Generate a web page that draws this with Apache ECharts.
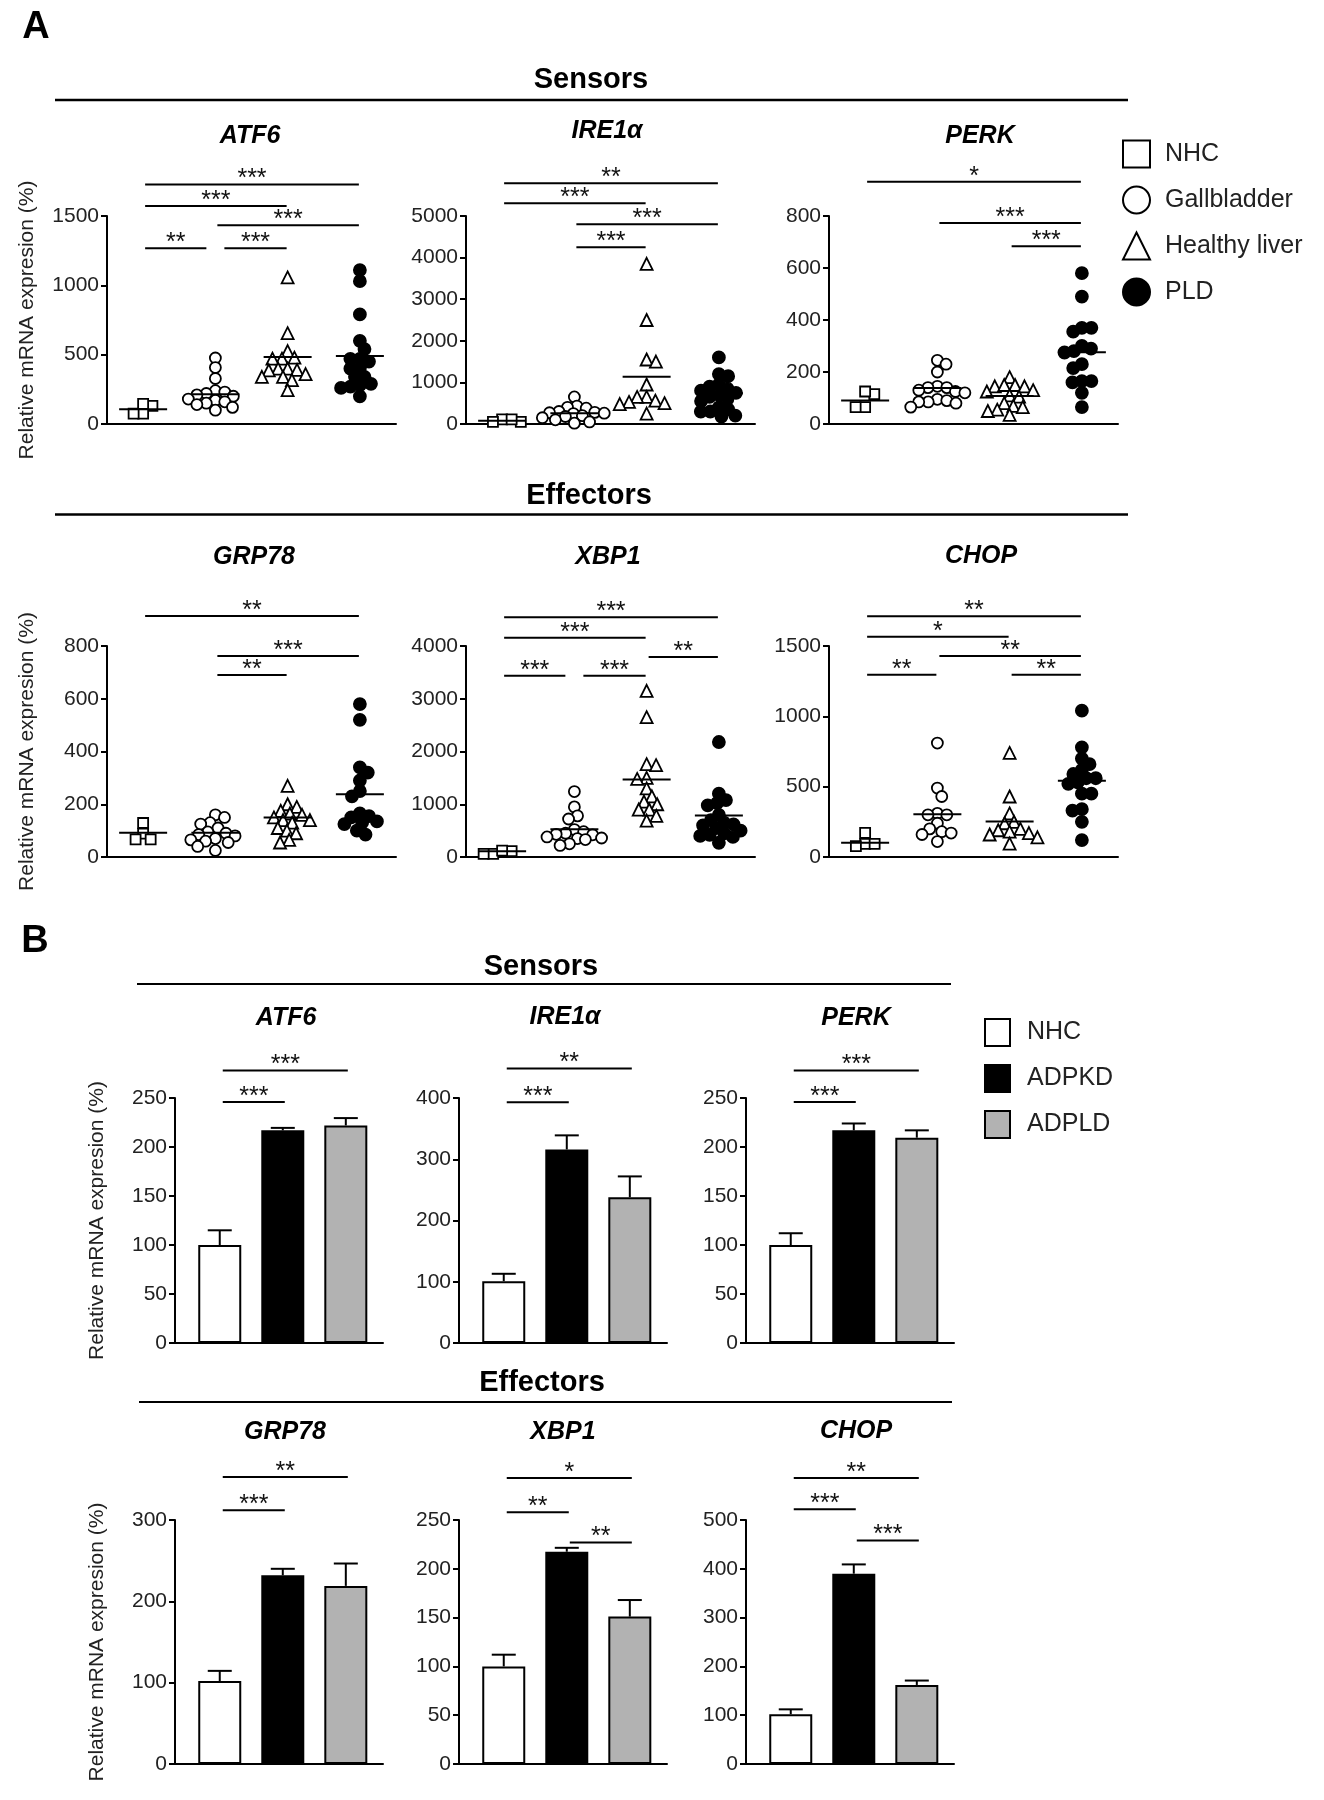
<!DOCTYPE html>
<html><head><meta charset="utf-8">
<script src="https://cdn.jsdelivr.net/npm/echarts@6.0.0/dist/echarts.min.js"></script>
<style>html,body{margin:0;padding:0;background:#fff}#c{width:1324px;height:1800px}</style>
</head><body><div id="c"></div>
<script>
// ---------------- DATA ----------------
const groupsA = ['NHC', 'Gallbladder', 'Healthy liver', 'PLD'];
const groupsB = ['NHC', 'ADPKD', 'ADPLD'];
const yName = 'Relative mRNA expresion (%)';

// Panel A: individual values per group [NHC, Gallbladder, Healthy liver, PLD]
const atf6A = [[130,75,75,145],
  [476,407,328,240,230,220,210,200,180,170,160,150,140,120,100],
  [1057,655,526,478,471,471,400,400,390,387,360,340,340,316,244],
  [1110,1030,790,600,540,470,470,450,400,400,340,340,290,280,270,260,200]];
const atf6AMean = [106,215,483,490];
const atf6ABr = [[0,3,1727,'***'],[0,2,1572,'***'],[1,3,1433,'***'],[0,1,1268,'**'],[1,2,1268,'***']];

const ire1aA = [[110,50,50,110],
  [650,430,400,380,300,280,270,260,250,200,180,150,100,50,20],
  [3850,2500,1550,1500,950,650,650,560,530,500,480,250],
  [1600,1200,1150,950,900,850,800,750,700,650,600,550,400,350,300,300,200,180]];
const ire1aAMean = [80,261,1138,737];
const ire1aABr = [[0,3,5785,'**'],[0,2,5304,'***'],[1,3,4800,'***'],[1,2,4247,'***']];

const perkA = [[115,125,65,65],
  [245,230,200,145,140,140,130,125,120,95,90,85,85,80,65],
  [180,150,145,145,150,130,125,110,105,80,70,65,55,50,35],
  [580,490,370,370,355,300,290,280,275,230,215,165,165,160,120,65]];
const perkAMean = [90,138,108,276];
const perkABr = [[0,3,932,'*'],[1,3,773,'***'],[2,3,684,'***']];

const grp78A = [[89,129,67,67],
  [160,150,130,125,110,95,90,85,80,70,65,60,55,40,25],
  [270,200,190,175,165,160,150,140,140,130,110,100,90,65,55],
  [580,520,340,320,290,250,230,165,155,150,135,130,125,100,85]];
const grp78AMean = [92,92,150,238];
const grp78ABr = [[0,3,914,'**'],[1,3,762,'***'],[1,2,690,'**']];

const xbp1A = [[110,60,60,120],
  [1240,950,780,720,520,480,450,430,420,380,360,350,330,250,220],
  [3150,2650,1760,1740,1500,1480,1300,1150,1050,1000,900,900,780,690],
  [2180,1200,1080,1020,980,800,700,650,620,600,550,500,450,420,400,380,270]];
const xbp1AMean = [107,527,1470,785];
const xbp1ABr = [[0,3,4546,'***'],[0,2,4157,'***'],[2,3,3793,'**'],[0,1,3435,'***'],[1,2,3435,'***']];

const chopA = [[94,78,94,172],
  [810,490,430,310,300,300,240,200,180,170,160,110],
  [740,430,310,250,240,200,190,180,170,160,140,95],
  [1040,780,700,660,620,590,560,560,530,520,450,450,340,330,250,120]];
const chopAMean = [101,304,252,542];
const chopABr = [[0,3,1712,'**'],[0,2,1566,'*'],[1,3,1429,'**'],[0,1,1295,'**'],[2,3,1295,'**']];

// Panel B: means and SEM [NHC, ADPKD, ADPLD]
const atf6B = [100,217,222];   const atf6BErr = [15,2.5,7.5];
const atf6BBr = [[0,1,246,'***'],[0,2,278,'***']];
const ire1aB = [101,316,238];  const ire1aBErr = [12,23,34];
const ire1aBBr = [[0,1,393,'***'],[0,2,448,'**']];
const perkB = [100,217,209.5]; const perkBErr = [12,7,7.5];
const perkBBr = [[0,1,246,'***'],[0,2,278,'***']];
const grp78B = [102,232,219];  const grp78BErr = [12.5,8,27.5];
const grp78BBr = [[0,1,312,'***'],[0,2,353,'**']];
const xbp1B = [100,217.5,151]; const xbp1BErr = [12,4,17];
const xbp1BBr = [[0,1,258,'**'],[0,2,293,'*'],[1,2,227,'**']];
const chopB = [102,390,162];   const chopBErr = [10,19,9];
const chopBBr = [[0,1,522,'***'],[0,2,586,'**'],[1,2,458,'***']];

// ---------------- LAYOUT / STYLE ----------------
const FF = '"Liberation Sans", Arial, Helvetica, sans-serif';
const panelsA = [
  {title:'ATF6',  tx:250, ty:136, data:atf6A,  mean:atf6AMean,  br:atf6ABr,  max:1500, step:500,  left:107, top:216, h:208, named:true},
  {title:'IRE1α', tx:607, ty:131, data:ire1aA, mean:ire1aAMean, br:ire1aABr, max:5000, step:1000, left:466, top:216, h:208},
  {title:'PERK',  tx:980, ty:136, data:perkA,  mean:perkAMean,  br:perkABr,  max:800,  step:200,  left:829, top:216, h:208},
  {title:'GRP78', tx:254, ty:557, data:grp78A, mean:grp78AMean, br:grp78ABr, max:800,  step:200,  left:107, top:646, h:211, named:true},
  {title:'XBP1',  tx:608, ty:557, data:xbp1A,  mean:xbp1AMean,  br:xbp1ABr,  max:4000, step:1000, left:466, top:646, h:211},
  {title:'CHOP',  tx:981, ty:556, data:chopA,  mean:chopAMean,  br:chopABr,  max:1500, step:500,  left:829, top:646, h:211}
];
const panelsB = [
  {title:'ATF6',  tx:286, ty:1018, data:atf6B,  err:atf6BErr,  br:atf6BBr,  max:250, step:50,  left:175, top:1098, h:245, named:true},
  {title:'IRE1α', tx:565, ty:1017, data:ire1aB, err:ire1aBErr, br:ire1aBBr, max:400, step:100, left:459, top:1098, h:245},
  {title:'PERK',  tx:856, ty:1018, data:perkB,  err:perkBErr,  br:perkBBr,  max:250, step:50,  left:746, top:1098, h:245},
  {title:'GRP78', tx:285, ty:1432, data:grp78B, err:grp78BErr, br:grp78BBr, max:300, step:100, left:175, top:1520, h:244, named:true},
  {title:'XBP1',  tx:563, ty:1432, data:xbp1B,  err:xbp1BErr,  br:xbp1BBr,  max:250, step:50,  left:459, top:1520, h:244},
  {title:'CHOP',  tx:856, ty:1431, data:chopB,  err:chopBErr,  br:chopBBr,  max:500, step:100, left:746, top:1520, h:244}
];
const SYM = ['rect','circle','triangle','circle'];
const SIZE = [10, 11, 12, 12];
const BAR_FILL = ['#ffffff', '#000000', '#b2b2b2'];
const WA = 289, WB = 208;

// beeswarm layout of points (pixel-space collision avoidance, capped spread)
function swarm(vals, pxPerUnit, d, pxPerBand, cap) {
  const order = vals.map((v,i)=>i).sort((a,b)=>vals[b]-vals[a]);
  const placed = [], res = new Array(vals.length).fill(0);
  let flip = 1;
  for (const i of order) {
    const y = vals[i]*pxPerUnit;
    const cands = [0];
    for (const p of placed) {
      const dy = Math.abs(p.y-y);
      if (dy < d) { const dx = Math.sqrt(d*d-dy*dy)+0.01; cands.push(p.x+dx, p.x-dx); }
    }
    cands.sort((a,b)=>(Math.abs(a)-Math.abs(b)) || (flip*(b-a)));
    let x = null;
    for (const c of cands) {
      if (Math.abs(c) > cap) continue;
      if (placed.every(p=>(p.x-c)*(p.x-c)+(p.y-y)*(p.y-y) >= d*d-0.5)) { x = c; break; }
    }
    if (x === null) {
      // no free slot within cap: take the least crowded position
      let best = 0, bestD = -1;
      for (let c = -cap; c <= cap; c += 1) {
        const md = Math.min(...placed.map(p=>Math.hypot(p.x-c, p.y-y)));
        if (md > bestD) { bestD = md; best = c; }
      }
      x = best;
    }
    if (x !== 0) flip = -flip;
    placed.push({x,y}); res[i] = x/pxPerBand;
  }
  return res;
}

function yAx(gi, max, step, named, gap) {
  return {type:'value', gridIndex:gi, min:0, max:max, interval:step,
    name: named ? yName : '', nameLocation:'middle', nameGap:gap,
    nameTextStyle:{fontSize:21, color:'#222', fontFamily:FF},
    axisLine:{show:true, onZero:false, lineStyle:{color:'#000', width:2}},
    axisTick:{show:true, inside:false, length:6, lineStyle:{color:'#000', width:2}},
    axisLabel:{show:true, fontSize:21, color:'#222', fontFamily:FF, margin:8, formatter: v => String(v)},
    splitLine:{show:false}};
}
function xAx(gi, min, max) {
  return {type:'value', gridIndex:gi, min:min, max:max,
    axisLine:{show:true, onZero:false, lineStyle:{color:'#000', width:2}},
    axisTick:{show:false}, axisLabel:{show:false}, splitLine:{show:false}};
}
function bracketSeries(gi, br, mode) {
  return {type:'custom', xAxisIndex:gi, yAxisIndex:gi, z:6, silent:true,
    encode:{x:[0,1], y:2},
    data: br.map(b=>[b[0], b[1], b[2]]),
    renderItem: function (params, api) {
      const b = br[params.dataIndex];
      const a = api.coord([b[0], b[2]]), c = api.coord([b[1], b[2]]);
      let x1, x2;
      if (mode === 'A') {
        x1 = a[0] + 2; x2 = c[0] - 1;
        if (br.some(o => o !== b && o[2] === b[2] && o[1] === b[0])) x1 += 7;
        if (br.some(o => o !== b && o[2] === b[2] && o[0] === b[1])) x2 -= 8;
      } else { x1 = a[0] + 3; x2 = c[0] + 2; }
      return {type:'group', children:[
        {type:'line', shape:{x1:x1, y1:a[1], x2:x2, y2:a[1]}, style:{stroke:'#000', lineWidth:2}},
        {type:'text', x:(x1+x2)/2, y:a[1]-5, style:{text:b[3], font:'25px '+FF, fill:'#111',
          align:'center', verticalAlign:'middle', textAlign:'center', textVerticalAlign:'middle'}}
      ]};
    }};
}

const opt = {animation:false, backgroundColor:'#fff', grid:[], xAxis:[], yAxis:[], series:[], graphic:{elements:[]}};
const G = opt.graphic.elements;
function txt(s, x, y, font) {
  G.push({type:'text', x:x, y:y, style:{text:s, font:font, fill:'#000',
    align:'center', verticalAlign:'middle', textAlign:'center', textVerticalAlign:'middle'}});
}
function hline(x1, x2, y, w) {
  G.push({type:'line', shape:{x1:x1, y1:y, x2:x2, y2:y}, style:{stroke:'#000', lineWidth:w}});
}

// Panel A
panelsA.forEach(p => {
  const gi = opt.grid.length;
  opt.grid.push({left:p.left, top:p.top, width:WA, height:p.h, containLabel:false, outerBoundsMode:'none'});
  opt.xAxis.push(xAx(gi, -0.5, 3.5));
  opt.yAxis.push(yAx(gi, p.max, p.step, p.named, 69));
  p.data.forEach((vals, g) => {
    const offs = swarm(vals, p.h/p.max, 9.5, WA/4, 32);
    opt.series.push({type:'scatter', name:groupsA[g], xAxisIndex:gi, yAxisIndex:gi,
      symbol:SYM[g], symbolSize:SIZE[g], z:3, silent:true,
      itemStyle:{color: g===3 ? '#000' : '#fff', borderColor:'#000', borderWidth:1.8, opacity:1},
      data: vals.map((v,j)=>[g+offs[j], v])});
  });
  opt.series.push({type:'custom', xAxisIndex:gi, yAxisIndex:gi, z:5, silent:true,
    encode:{x:0, y:1}, data: p.mean.map((m,i)=>[i, m]),
    renderItem: function (params, api) {
      const c = api.coord([api.value(0), api.value(1)]);
      return {type:'line', shape:{x1:c[0]-24, y1:c[1], x2:c[0]+24, y2:c[1]}, style:{stroke:'#000', lineWidth:2}};
    }});
  opt.series.push(bracketSeries(gi, p.br, 'A'));
  txt(p.title, p.tx, p.ty, 'italic bold 25px '+FF);
});

// Panel B
panelsB.forEach(p => {
  const gi = opt.grid.length;
  opt.grid.push({left:p.left, top:p.top, width:WB, height:p.h, containLabel:false, outerBoundsMode:'none'});
  opt.xAxis.push(xAx(gi, -0.71, 2.59));
  opt.yAxis.push(yAx(gi, p.max, p.step, p.named, 67));
  p.data.forEach((v, k) => {
    opt.series.push({type:'bar', name: k === 0 ? 'NHC (B)' : groupsB[k], xAxisIndex:gi, yAxisIndex:gi,
      barWidth:43, barGap:'-100%', z:2, silent:true,
      itemStyle:{color:BAR_FILL[k], borderColor:'#000', borderWidth:2},
      data:[[k, v]]});
  });
  opt.series.push({type:'custom', xAxisIndex:gi, yAxisIndex:gi, z:3, silent:true,
    encode:{x:0, y:1}, data: p.data.map((v,k)=>[k, v, p.err[k]]),
    renderItem: function (params, api) {
      const b = api.coord([api.value(0), api.value(1)]);
      const t = api.coord([api.value(0), api.value(1) + api.value(2)]);
      return {type:'group', children:[
        {type:'line', shape:{x1:b[0], y1:b[1], x2:t[0], y2:t[1]}, style:{stroke:'#000', lineWidth:2}},
        {type:'line', shape:{x1:t[0]-12, y1:t[1], x2:t[0]+12, y2:t[1]}, style:{stroke:'#000', lineWidth:2}}
      ]};
    }});
  opt.series.push(bracketSeries(gi, p.br, 'B'));
  txt(p.title, p.tx, p.ty, 'italic bold 25px '+FF);
});

// Section headings
txt('A', 36, 28, 'bold 38px '+FF);
txt('B', 35, 942, 'bold 38px '+FF);
txt('Sensors', 591, 80, 'bold 29px '+FF);
hline(55, 1128, 100, 2.5);
txt('Effectors', 589, 496, 'bold 29px '+FF);
hline(55, 1128, 514.5, 2.5);
txt('Sensors', 541, 967, 'bold 29px '+FF);
hline(137, 951, 984, 2);
txt('Effectors', 542, 1383, 'bold 29px '+FF);
hline(139, 952, 1402, 2);

opt.legend = [
  {orient:'vertical', left:1122, top:139.5, padding:0, itemWidth:27, itemHeight:27, itemGap:17,
   selectedMode:false, data:groupsA,
   itemStyle:{borderWidth:2, borderColor:'#000'},
   textStyle:{fontSize:25, color:'#222', fontFamily:FF, padding:[0,0,0,10]}},
  {orient:'vertical', left:984, top:1018, padding:0, itemWidth:25, itemHeight:27, itemGap:17,
   selectedMode:false, icon:'rect',
   data:['NHC (B)', 'ADPKD', 'ADPLD'],
   formatter: n => n.replace(' (B)', ''),
   itemStyle:{borderWidth:2, borderColor:'#000'},
   textStyle:{fontSize:25, color:'#222', fontFamily:FF, padding:[0,0,0,12]}}
];

const chart = echarts.init(document.getElementById('c'), null, {renderer:'canvas', width:1324, height:1800});
chart.setOption(opt);
</script></body></html>
